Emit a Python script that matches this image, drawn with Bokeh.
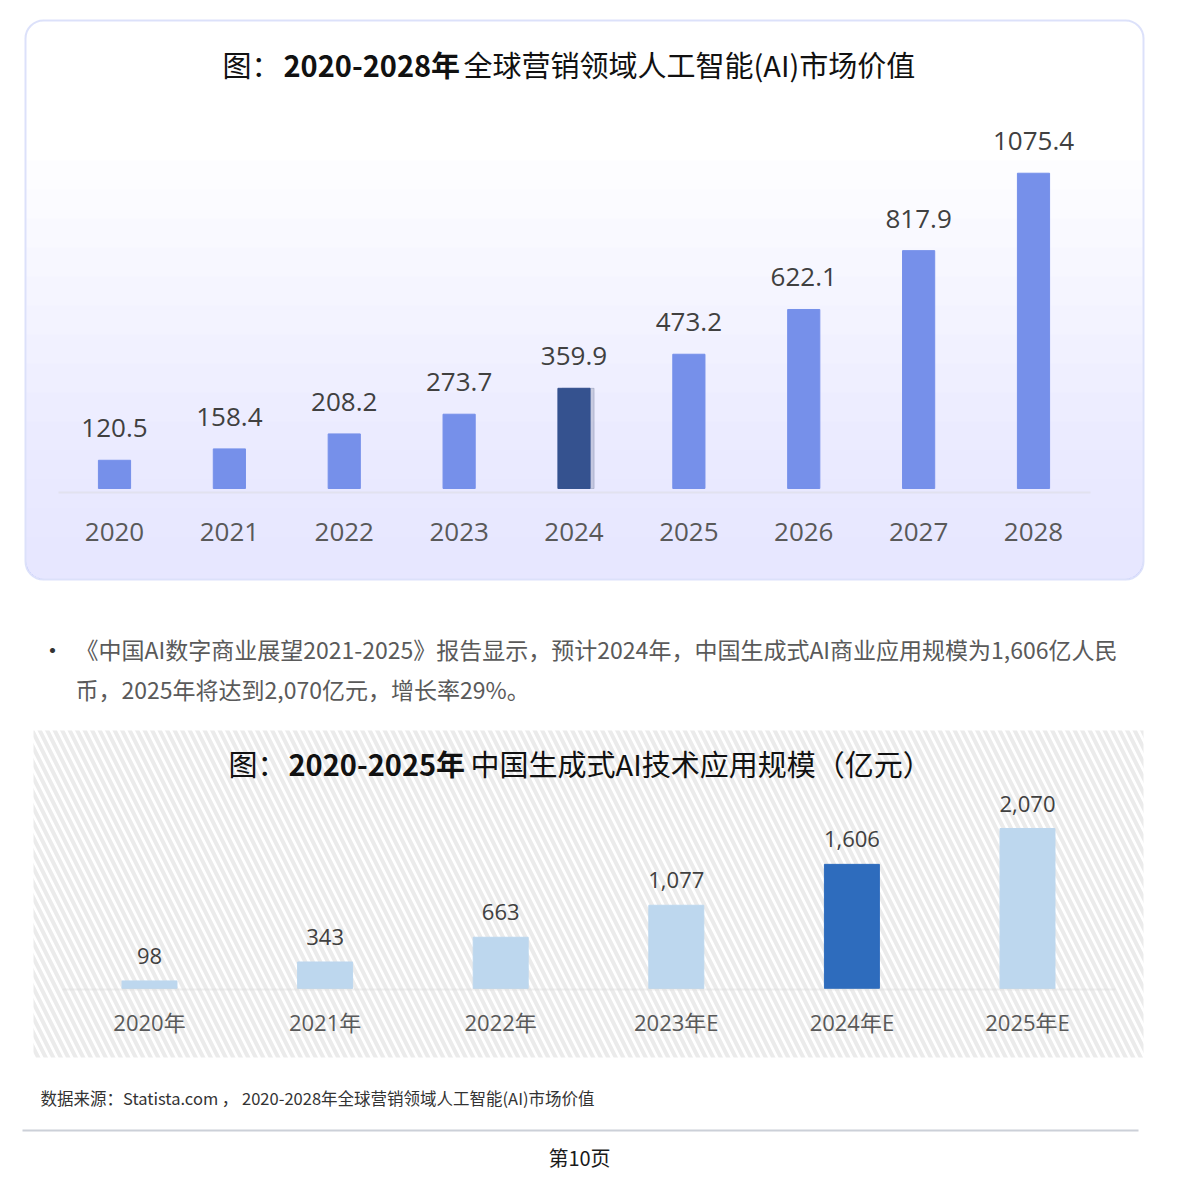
from bokeh.plotting import figure
from bokeh.models import ColumnDataSource, BoxAnnotation, Label, Range1d, FactorRange
from bokeh.layouts import column
from bokeh.transform import dodge
from bokeh.embed import file_html
from bokeh.resources import INLINE
from bokeh.core.properties import value

# ---------------- data ----------------
years1 = ["2020", "2021", "2022", "2023", "2024", "2025", "2026", "2027", "2028"]
values1 = [120.5, 158.4, 208.2, 273.7, 359.9, 473.2, 622.1, 817.9, 1075.4]
highlight1 = "2024"
axis_min1 = 26.6          # value axis start of the first chart

years2 = ["2020年", "2021年", "2022年", "2023年E", "2024年E", "2025年E"]
values2 = [98, 343, 663, 1077, 1606, 2070]
highlight2 = "2024年E"
axis_min2 = 0

title1_parts = ["图：", "2020-2028年", "全球营销领域人工智能(AI)市场价值"]
title2_parts = ["图：", "2020-2025年", "中国生成式AI技术应用规模（亿元）"]
bullet_lines = [
    "《中国AI数字商业展望2021-2025》报告显示，预计2024年，中国生成式AI商业应用规模为1,606亿人民",
    "币，2025年将达到2,070亿元，增长率29%。",
]
source_text = "数据来源：Statista.com ， 2020-2028年全球营销领域人工智能(AI)市场价值"
page_text = "第10页"

CJK = "Noto Sans CJK SC"
NUM = "'Open Sans', 'Noto Sans CJK SC'"


def canvas_box(**kw):
    return BoxAnnotation(left_units="canvas", right_units="canvas",
                         top_units="canvas", bottom_units="canvas", **kw)


def canvas_label(**kw):
    return Label(x_units="canvas", y_units="canvas", **kw)


def style_plain(p):
    p.outline_line_color = None
    p.grid.visible = False
    p.axis.visible = False
    p.background_fill_color = "white"
    p.border_fill_color = "white"


# ---------------- chart 1 ----------------
c1 = ["#35528f" if y == highlight1 else "#7690ea" for y in years1]
src1 = ColumnDataSource(dict(year=years1, val=values1, color=c1,
                             base=[axis_min1] * len(years1),
                             label=[f"{v:.1f}" for v in values1]))
hl1 = ColumnDataSource(dict(year=[highlight1], val=[values1[years1.index(highlight1)]],
                            base=[axis_min1]))

p1 = figure(width=1147, height=720,
            x_range=FactorRange(factors=years1, range_padding=0.4924,
                                range_padding_units="absolute"),
            y_range=Range1d(-745.2, 1650.0),
            output_backend="svg", toolbar_location=None, min_border=0)
style_plain(p1)

# rounded panel with soft vertical gradient
for i in range(14):
    p1.add_layout(canvas_box(left=26, right=1142, top=160 + i * 29, bottom=578,
                             fill_color="#d8e0fa", fill_alpha=0.05, line_alpha=0,
                             border_radius=(0, 0, 16, 16), level="underlay"))
p1.add_layout(canvas_box(left=25, right=1143, top=20, bottom=579,
                         fill_alpha=0, line_color="#8a9cf0", line_width=2,
                         border_radius=18, level="annotation"))

# soft shadow of the highlighted bar
p1.vbar(x=dodge("year", 0.035, range=p1.x_range), top="val", bottom="base", width=0.28,
        color="#1b2b55", alpha=0.18, source=hl1)
p1.vbar(x="year", top="val", bottom="base", width=0.28, color="color", source=src1)
p1.add_layout(canvas_box(left=58, right=1090, top=491, bottom=493,
                         fill_color="#d6d6d6", line_alpha=0, level="glyph"))
p1.text(x="year", y="val", text="label", y_offset=-32, text_align="center",
        text_baseline="middle", text_font=value("Open Sans"), text_font_size="26px",
        text_color="#404040", source=src1)
p1.text(x="year", y="base", text="year", y_offset=44, text_align="center",
        text_baseline="middle", text_font=value("Open Sans"), text_font_size="26px",
        text_color="#595959", source=src1)

for txt, x, st in zip(title1_parts, [222, 283, 463], ["normal", "bold", "normal"]):
    p1.add_layout(canvas_label(x=x, y=63, text=txt, text_font=CJK, text_font_size="29px",
                               text_font_style=st, text_color="#111111",
                               text_baseline="middle", text_align="left"))

p1.add_layout(canvas_label(x=40, y=648, text="•", text_font=CJK, text_font_size="24px",
                           text_color="#333333", text_baseline="middle"))
for i, line in enumerate(bullet_lines):
    p1.add_layout(canvas_label(x=75, y=648 + 40 * i, text=line, text_font=CJK,
                               text_font_size="23px", text_color="#5a5a5a",
                               text_baseline="middle"))

# ---------------- chart 2 ----------------
c2 = ["#2e6cbd" if y == highlight2 else "#bdd7ee" for y in years2]
src2 = ColumnDataSource(dict(year=years2, val=values2, color=c2,
                             base=[axis_min2] * len(years2),
                             label=[f"{v:,}" for v in values2]))

p2 = figure(width=1176, height=456,
            x_range=FactorRange(factors=years2, range_padding=0.3485,
                                range_padding_units="absolute"),
            y_range=Range1d(-2432.4, 3467.5),
            output_backend="svg", toolbar_location=None, min_border=0)
style_plain(p2)

p2.add_layout(canvas_box(left=33, right=1143, top=10, bottom=337,
                         fill_color="white", line_alpha=0,
                         hatch_pattern="\\", hatch_color="#ebebeb",
                         hatch_weight=4, hatch_scale=15, level="underlay"))

p2.vbar(x="year", top="val", bottom="base", width=0.313, color="color", source=src2)
p2.add_layout(canvas_box(left=62, right=1115, top=268, bottom=270,
                         fill_color="#d9d9d9", line_alpha=0, level="glyph"))
p2.text(x="year", y="val", text="label", y_offset=-25, text_align="center",
        text_baseline="middle", text_font=value("Open Sans"), text_font_size="22px",
        text_color="#404040", source=src2)
p2.text(x="year", y="base", text="year", y_offset=33, text_align="center",
        text_baseline="middle", text_font=value(NUM), text_font_size="22px",
        text_color="#595959", source=src2)

for txt, x, st in zip(title2_parts, [228, 288, 470], ["normal", "bold", "normal"]):
    p2.add_layout(canvas_label(x=x, y=42, text=txt, text_font=CJK, text_font_size="29px",
                               text_font_style=st, text_color="#111111",
                               text_baseline="middle", text_align="left"))

p2.add_layout(canvas_label(x=40, y=377, text=source_text, text_font=CJK,
                           text_font_size="16.5px", text_color="#333333",
                           text_baseline="middle"))
p2.add_layout(canvas_box(left=22, right=1138, top=409, bottom=411,
                         fill_color="#7f899e", line_alpha=0))
p2.add_layout(canvas_label(x=579, y=437, text=page_text, text_font=CJK,
                           text_font_size="20px", text_color="#1a1a1a",
                           text_baseline="middle", text_align="center"))

layout = column(p1, p2, spacing=0)
open("out.html", "w").write(file_html(layout, INLINE))
